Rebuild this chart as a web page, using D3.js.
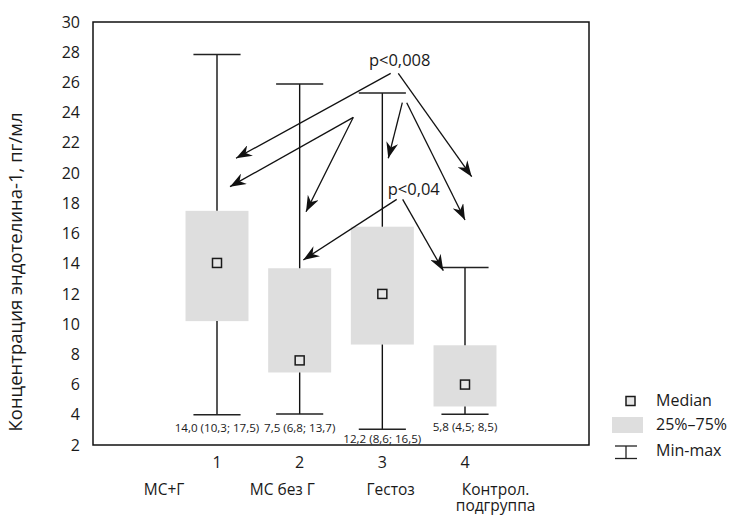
<!DOCTYPE html>
<html><head><meta charset="utf-8">
<script src="https://cdn.jsdelivr.net/npm/d3@7"></script>
<style>body{margin:0;background:#fff}text{font-family:"Open Sans",sans-serif;fill:#1a1a1a}</style>
</head><body><svg id="c" width="733" height="517"></svg>
<script>
// ---- data ----
const groups = [1, 2, 3, 4];
const groupNames = [["МС+Г"], ["МС без Г"], ["Гестоз"], ["Контрол.", "подгруппа"]];
const namePos = [0.36, 1.79, 3.10, 4.37];
const mins =    [4.0, 4.05, 3.05, 4.03];
const q1s =     [10.2, 6.8, 8.65, 4.55];
const medians = [14.05, 7.6, 12.0, 6.0];
const q3s =     [17.5, 13.7, 16.45, 8.6];
const maxs =    [27.85, 25.9, 25.3, 13.75];
const statLabels = ["14,0 (10,3; 17,5)", "7,5 (6,8; 13,7)", "12,2 (8,6; 16,5)", "5,8 (4,5; 8,5)"];
const statLabelY = [2.86, 2.86, 2.11, 2.93];
const yTicks = d3.range(2, 31, 2);
const pLabels = [{t: "p<0,008", x: 3.21, y: 27.1}, {t: "p<0,04", x: 3.38, y: 18.55}];
const arrows = [
  [3.101, 26.60, 1.230, 20.98],
  [3.193, 26.60, 4.081, 19.76],
  [2.649, 23.69, 1.157, 19.10],
  [2.649, 23.69, 2.077, 17.44],
  [3.242, 24.66, 3.072, 20.98],
  [3.295, 24.66, 4.000, 16.89],
  [3.174, 18.26, 2.044, 14.25],
  [3.246, 18.26, 3.738, 13.54]
];
const legendItems = ["Median", "25%–75%", "Min-max"];

// ---- layout ----
const svg = d3.select("#c");
const L = 93, R = 589, T = 22, B = 445;
const x = d3.scaleLinear().domain([-0.5, 5.5]).range([L, R]);
const y = d3.scaleLinear().domain([2, 30]).range([B, T]);
const unit = x(1) - x(0);
const boxW = unit * 0.762, capW = unit * 0.57;

// y tick labels
const yAxis = d3.axisLeft(y).tickValues(yTicks).tickSize(0).tickPadding(13);
const ga = svg.append("g").attr("transform", `translate(${L},0)`).call(yAxis);
ga.select(".domain").remove();
ga.selectAll("text").style("font-size", "16px").style("font-family", "'Open Sans',sans-serif").attr("fill", "#1a1a1a");

// y title
svg.append("text").attr("transform", `translate(22,272) rotate(-90)`)
  .attr("text-anchor", "middle").style("font-size", "18.5px").text("Концентрация эндотелина-1, пг/мл");

// boxes
const g = svg.append("g");
groups.forEach((c, i) => {
  const cx = x(c);
  g.append("rect").attr("x", cx - boxW / 2).attr("y", y(q3s[i])).attr("width", boxW)
    .attr("height", y(q1s[i]) - y(q3s[i])).attr("fill", "#dedede");
  g.append("line").attr("x1", cx).attr("x2", cx).attr("y1", y(maxs[i])).attr("y2", y(q3s[i])).attr("stroke", "#111").attr("stroke-width", 1.4);
  g.append("line").attr("x1", cx).attr("x2", cx).attr("y1", y(q1s[i])).attr("y2", y(mins[i])).attr("stroke", "#111").attr("stroke-width", 1.4);
  [maxs[i], mins[i]].forEach(v => g.append("line").attr("x1", cx - capW / 2).attr("x2", cx + capW / 2)
    .attr("y1", y(v)).attr("y2", y(v)).attr("stroke", "#222").attr("stroke-width", 1.5));
  g.append("rect").attr("x", cx - 4.5).attr("y", y(medians[i]) - 4.5).attr("width", 9).attr("height", 9)
    .attr("fill", "#e6e6e6").attr("stroke", "#1a1a1a").attr("stroke-width", 1.5);
  g.append("text").attr("x", cx).attr("y", y(statLabelY[i])).attr("text-anchor", "middle")
    .style("font-size", "11.6px").text(statLabels[i]);
  g.append("text").attr("x", cx).attr("y", 468).attr("text-anchor", "middle").style("font-size", "16px").text(c);
  const nt = g.append("text").attr("x", x(namePos[i])).attr("y", 495).attr("text-anchor", "middle").style("font-size", "15.5px");
  groupNames[i].forEach((s, k) => nt.append("tspan").attr("x", x(namePos[i])).attr("dy", k ? 16 : 0).text(s));
});

// frame
svg.append("rect").attr("x", L).attr("y", T).attr("width", R - L).attr("height", B - T)
  .attr("fill", "none").attr("stroke", "#111").attr("stroke-width", 1.5);

// arrows
svg.append("defs").append("marker").attr("id", "ah").attr("viewBox", "-16 -6 17 12")
  .attr("refX", 0).attr("refY", 0).attr("markerWidth", 17).attr("markerHeight", 12)
  .attr("markerUnits", "userSpaceOnUse").attr("orient", "auto")
  .append("path").attr("d", "M0,0 L-16,-6 L-11,0 L-16,6 Z").attr("fill", "#111");
arrows.forEach(a => svg.append("line").attr("x1", x(a[0])).attr("y1", y(a[1])).attr("x2", x(a[2])).attr("y2", y(a[3]))
  .attr("stroke", "#111").attr("stroke-width", 1.3).attr("marker-end", "url(#ah)"));
pLabels.forEach(p => svg.append("text").attr("x", x(p.x)).attr("y", y(p.y)).attr("text-anchor", "middle")
  .style("font-size", "16.5px").text(p.t));

// legend
const lg = svg.append("g");
lg.append("rect").attr("x", 626).attr("y", 396.5).attr("width", 9).attr("height", 9)
  .attr("fill", "#e6e6e6").attr("stroke", "#1a1a1a").attr("stroke-width", 1.5);
lg.append("rect").attr("x", 612).attr("y", 417).attr("width", 31).attr("height", 16).attr("fill", "#dedede");
lg.append("line").attr("x1", 615).attr("x2", 637).attr("y1", 446).attr("y2", 446).attr("stroke", "#222").attr("stroke-width", 1.3);
lg.append("line").attr("x1", 615).attr("x2", 637).attr("y1", 458.5).attr("y2", 458.5).attr("stroke", "#222").attr("stroke-width", 1.3);
lg.append("line").attr("x1", 626).attr("x2", 626).attr("y1", 446).attr("y2", 458.5).attr("stroke", "#222").attr("stroke-width", 1.3);
legendItems.forEach((s, k) => lg.append("text").attr("x", 656).attr("y", [406, 430, 456][k]).style("font-size", "16px").text(s));
</script></body></html>
